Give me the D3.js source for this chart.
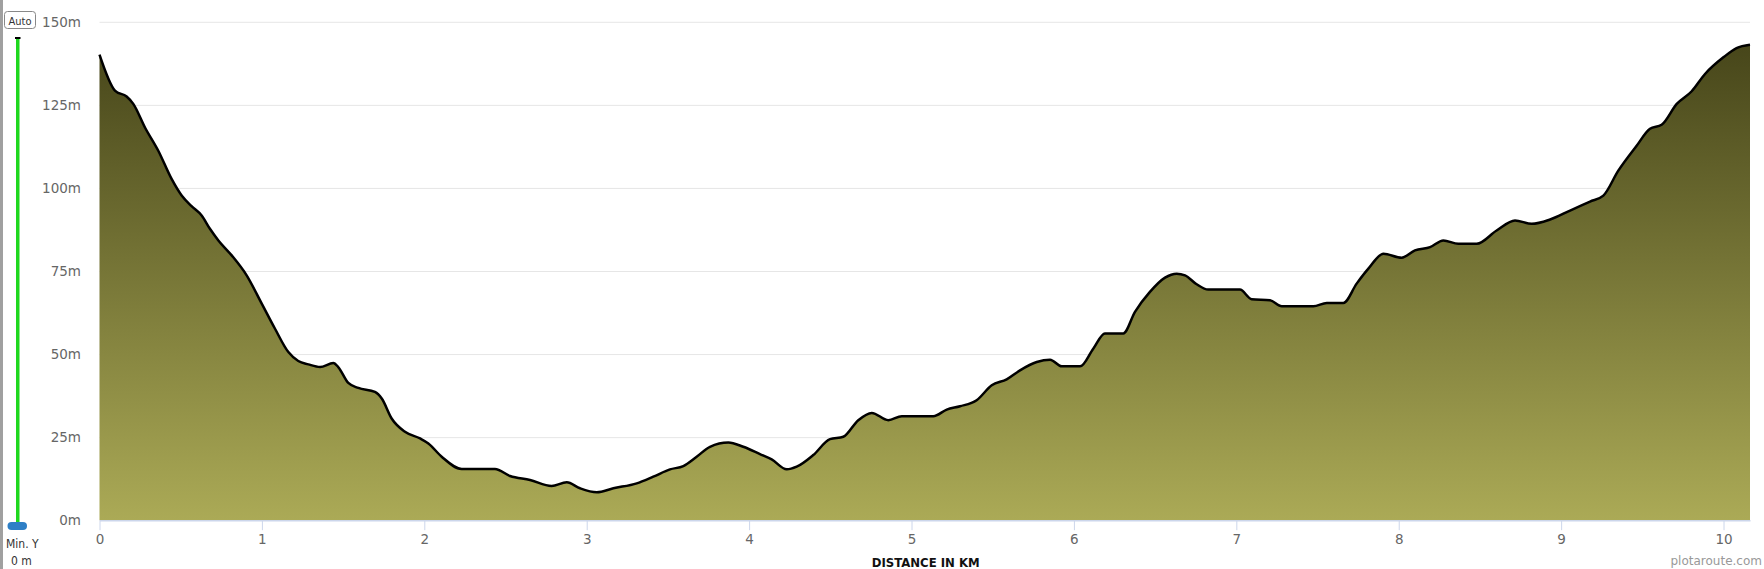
<!DOCTYPE html>
<html>
<head>
<meta charset="utf-8">
<script src="https://cdn.jsdelivr.net/npm/d3@7"></script>
<style>
  html, body { margin: 0; padding: 0; background: #fff; overflow: hidden; }
  svg { display: block; }
</style>
</head>
<body>
<svg id="chart" width="1764" height="569"></svg>
<script>
// ---- data ----
const distKm = [0.00,0.095,0.167,0.208,0.28,0.362,0.444,0.506,0.567,0.629,0.68,0.732,0.814,0.906,0.999,1.08,1.163,1.224,1.286,1.358,1.44,1.47,1.532,1.594,1.696,1.738,1.799,1.881,1.974,2.025,2.107,2.23,2.435,2.528,2.651,2.784,2.877,2.959,3.062,3.164,3.308,3.41,3.513,3.595,3.677,3.759,3.872,3.964,4.067,4.139,4.232,4.293,4.395,4.498,4.58,4.672,4.755,4.857,4.94,5.134,5.217,5.299,5.401,5.494,5.586,5.668,5.771,5.853,5.925,6.038,6.12,6.191,6.304,6.376,6.468,6.561,6.633,6.684,6.756,6.827,7.022,7.095,7.207,7.28,7.474,7.557,7.659,7.741,7.813,7.906,8.018,8.1,8.193,8.275,8.367,8.48,8.603,8.716,8.819,8.932,9.055,9.178,9.26,9.352,9.465,9.547,9.619,9.712,9.804,9.886,9.999,10.08,10.163];
const elevM  = [140.1,129.3,127.5,125.3,118.2,111.2,102.7,97.7,94.5,91.7,87.7,84.2,79.7,73.7,65.2,57.7,50.6,47.9,46.9,46.1,47.3,46.1,41.3,39.8,38.6,36.6,30.6,26.6,24.6,23.1,19.1,15.4,15.4,13.3,12.1,10.3,11.4,9.6,8.4,9.6,11.1,13.1,15.3,16.3,19.1,22.1,23.4,22.1,19.9,18.3,15.3,16.1,19.6,24.4,25.1,30.1,32.3,30.1,31.3,31.3,33.3,34.3,36.1,40.6,42.4,45.1,47.6,48.3,46.3,46.3,51.7,56.2,56.2,62.7,68.7,73.0,74.2,73.7,71.0,69.4,69.4,66.5,66.2,64.4,64.4,65.4,65.4,71.2,75.7,80.2,79.0,81.2,82.2,84.2,83.2,83.2,87.2,90.2,89.2,90.5,93.2,95.9,97.7,105.2,112.7,117.8,119.0,125.3,129.1,134.3,139.3,142.1,143.1];
const xTicks = [0,1,2,3,4,5,6,7,8,9,10];
const yTicks = [0,25,50,75,100,125,150];
const xTitle = "DISTANCE IN KM";
const credit = "plotaroute.com";

// ---- layout ----
const svg = d3.select("#chart");
const plotL = 99.5, plotR = 1750, plotT = 21.8, plotB = 520.2;

const x = d3.scaleLinear().domain([0, d3.max(distKm)]).range([plotL, plotR]);
const y = d3.scaleLinear().domain([0, 150]).range([plotB, plotT]);

const pts = distKm.map((d, i) => [d, elevM[i]]);

// left border
svg.append("rect").attr("x", 0).attr("y", 0).attr("width", 3).attr("height", 569).attr("fill", "#a0a0a0");

// gridlines
const grid = svg.append("g").attr("transform", `translate(${plotL},0)`)
  .call(d3.axisLeft(y).tickValues(yTicks.filter(v => v > 0)).tickSize(-(plotR - plotL)).tickFormat(""));
grid.select(".domain").remove();
grid.selectAll("line").attr("stroke", "#e6e6e6").attr("stroke-width", 1);

// gradient
const defs = svg.append("defs");
const grad = defs.append("linearGradient").attr("id", "fillGrad")
  .attr("gradientUnits", "userSpaceOnUse")
  .attr("x1", 0).attr("x2", 0).attr("y1", y(d3.max(elevM))).attr("y2", y(0));
grad.append("stop").attr("offset", "0%").attr("stop-color", "#47461a");
grad.append("stop").attr("offset", "100%").attr("stop-color", "#abaa56");

const curve = d3.curveMonotoneX;
const area = d3.area().x(d => x(d[0])).y0(y(0)).y1(d => y(d[1])).curve(curve);
const line = d3.line().x(d => x(d[0])).y(d => y(d[1])).curve(curve);

svg.append("path").datum(pts).attr("d", area).attr("fill", "url(#fillGrad)");
svg.append("path").datum(pts).attr("d", line).attr("fill", "none")
  .attr("stroke", "#000").attr("stroke-width", 2.5).attr("stroke-linejoin", "round");

// x axis
const xa = svg.append("g").attr("transform", `translate(0,${plotB})`)
  .call(d3.axisBottom(x).tickValues(xTicks).tickSize(10).tickSizeOuter(0).tickPadding(4));
xa.select(".domain").attr("stroke", "#ccd6eb").attr("stroke-width", 1.5);
xa.selectAll(".tick line").attr("stroke", "#ccd6eb").attr("stroke-width", 1);
xa.selectAll("text").attr("fill", "#666").attr("font-family", "DejaVu Sans, sans-serif").attr("font-size", 13.5);

// y axis labels
const ya = svg.append("g").attr("transform", `translate(${plotL},0)`)
  .call(d3.axisLeft(y).tickValues(yTicks).tickSize(0).tickPadding(18.5).tickFormat(d => d + "m"));
ya.select(".domain").remove();
ya.selectAll("text").attr("fill", "#666").attr("font-family", "DejaVu Sans, sans-serif").attr("font-size", 13.5);

// axis title
svg.append("text").attr("x", (plotL + plotR) / 2 + 1).attr("y", 567)
  .attr("text-anchor", "middle").attr("font-family", "DejaVu Sans Condensed, DejaVu Sans, sans-serif")
  .attr("font-weight", "bold").attr("font-size", 13).attr("fill", "#111").text(xTitle);

// credit
svg.append("text").attr("x", 1762).attr("y", 565).attr("text-anchor", "end")
  .attr("font-family", "DejaVu Sans, sans-serif").attr("font-size", 12).attr("fill", "#999").text(credit);

// left control: Auto button, slider
svg.append("rect").attr("x", 4.5).attr("y", 11.5).attr("width", 31).attr("height", 17).attr("rx", 3)
  .attr("fill", "#fff").attr("stroke", "#888").attr("stroke-width", 1);
svg.append("text").attr("x", 20).attr("y", 24.5).attr("text-anchor", "middle")
  .attr("font-family", "DejaVu Sans Condensed, DejaVu Sans, sans-serif").attr("font-size", 11).attr("fill", "#333").text("Auto");
svg.append("rect").attr("x", 15).attr("y", 37).attr("width", 5.5).attr("height", 2).attr("fill", "#000");
svg.append("rect").attr("x", 16).attr("y", 39).attr("width", 3.5).attr("height", 484).attr("fill", "#1fd81f");
svg.append("rect").attr("x", 7.5).attr("y", 522).attr("width", 19.5).attr("height", 8).attr("rx", 4)
  .attr("fill", "#2e7fc6");
svg.append("text").attr("x", 6).attr("y", 548).attr("font-family", "DejaVu Sans Condensed, DejaVu Sans, sans-serif")
  .attr("font-size", 12).attr("fill", "#333").text("Min. Y");
svg.append("text").attr("x", 11).attr("y", 565).attr("font-family", "DejaVu Sans Condensed, DejaVu Sans, sans-serif")
  .attr("font-size", 12).attr("fill", "#333").text("0 m");
</script>
</body>
</html>
